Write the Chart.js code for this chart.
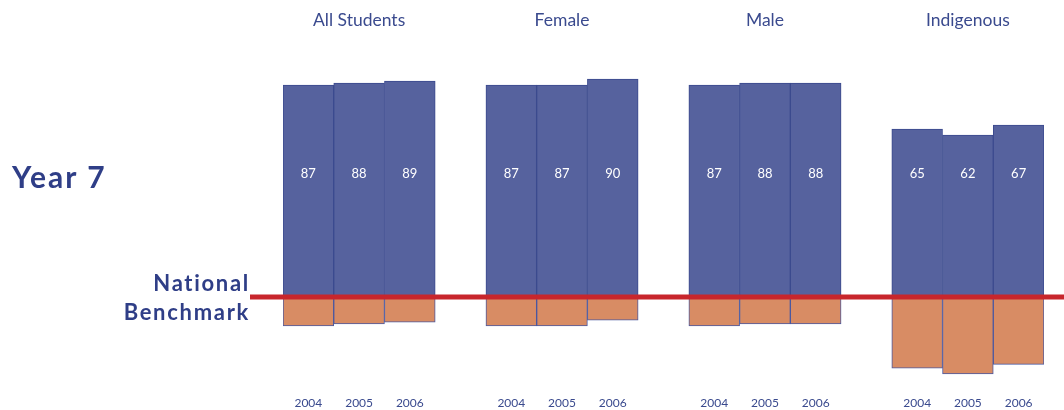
<!DOCTYPE html>
<html>
<head>
<meta charset="utf-8">
<script src="https://cdn.jsdelivr.net/npm/chart.js@4"></script>
<style>
  body { margin: 0; background: #fff; }
  #wrap { position: relative; width: 1064px; height: 410px; }
  .side { position: absolute; font-family: Lato, "Open Sans", sans-serif; font-weight: bold; color: #2f3e87; }
  #year { left: 12px; top: 160px; font-size: 30px; line-height: 32px; letter-spacing: 2px; }
  #bench { left: 0; width: 250px; top: 268px; font-size: 22px; line-height: 29px; text-align: right; letter-spacing: 1.7px; }
</style>
</head>
<body>
<div id="wrap">
  <canvas id="barChart"></canvas>
  <div class="side" id="year">Year 7</div>
  <div class="side" id="bench">National<br>Benchmark</div>
</div>
<script>
// Groups and years
const groups = ['All Students', 'Female', 'Male', 'Indigenous'];
const years = ['2004', '2005', '2006'];

// % of students at or above the national benchmark
const allStudents = [87, 88, 89];
const female = [87, 87, 90];
const male = [87, 88, 88];
const indigenous = [65, 62, 67];

// build one slot per bar, with an empty slot between groups
const groupValues = [allStudents, female, male, indigenous];
const xLabels = [];
const topLabels = [];
const above = [];
const below = [];
groupValues.forEach((vals, g) => {
    vals.forEach((v, i) => {
        xLabels.push(years[i]);
        topLabels.push(i === 1 ? groups[g] : '');
        above.push(v);
        below.push(-(100 - v)); // share below benchmark
    });
    if (g < groupValues.length - 1) {
        xLabels.push('');
        topLabels.push('');
        above.push(null);
        below.push(null);
    }
});

// red benchmark line across the chart
const benchmarkLine = {
    id: 'benchmarkLine',
    afterDatasetsDraw(chart) {
        const ctx = chart.ctx;
        const y = chart.scales.yBlue.getPixelForValue(-19);
        ctx.save();
        ctx.strokeStyle = '#c8262c';
        ctx.lineWidth = 5;
        ctx.beginPath();
        ctx.moveTo(250, y);
        ctx.lineTo(chart.width, y);
        ctx.stroke();
        ctx.restore();
    }
};

// white numbers inside the blue bars
const valueLabels = {
    id: 'valueLabels',
    afterDatasetsDraw(chart) {
        const ctx = chart.ctx;
        const meta = chart.getDatasetMeta(0);
        ctx.save();
        ctx.fillStyle = '#ffffff';
        ctx.font = '13px Lato, "Open Sans", sans-serif';
        ctx.textAlign = 'center';
        ctx.textBaseline = 'middle';
        meta.data.forEach((bar, i) => {
            const v = chart.data.datasets[0].data[i];
            if (v === null) return;
            ctx.fillText(v, bar.x, 174);
        });
        ctx.restore();
    }
};

const ctx = document.getElementById('barChart').getContext('2d');
new Chart(ctx, {
    type: 'bar',
    data: {
        labels: xLabels,
        datasets: [{
            data: above,
            yAxisID: 'yBlue',
            base: -19,
            grouped: false,
            barPercentage: 1,
            categoryPercentage: 1,
            backgroundColor: '#56629e',
            borderColor: '#3b4a8e',
            borderWidth: 1
        }, {
            data: below,
            yAxisID: 'y',
            base: 2.08,
            grouped: false,
            barPercentage: 1,
            categoryPercentage: 1,
            backgroundColor: '#d88c64',
            borderColor: '#4a58a0',
            borderWidth: 1
        }]
    },
    options: {
        responsive: true,
        maintainAspectRatio: false,
        animation: false,
        layout: { padding: { left: 283, right: 20, top: 0, bottom: 0 } },
        scales: {
            x: {
                position: 'bottom',
                grid: { display: false, drawTicks: false },
                border: { display: false },
                ticks: {
                    autoSkip: false,
                    maxRotation: 0,
                    padding: 16,
                    color: '#3a4a8e',
                    font: { family: 'Lato, "Open Sans", sans-serif', size: 12 }
                },
                afterFit: (scale) => { scale.height = 30; }
            },
            xTop: {
                type: 'category',
                labels: topLabels,
                position: 'top',
                grid: { display: false, drawTicks: false },
                border: { display: false },
                ticks: {
                    autoSkip: false,
                    maxRotation: 0,
                    padding: 9,
                    color: '#3a4a8e',
                    font: { family: 'Lato, "Open Sans", sans-serif', size: 17.5 }
                },
                afterFit: (scale) => { scale.height = 40; }
            },
            y: { display: false, min: -41.15, max: 135.94 },
            yBlue: { display: false, min: -60.5, max: 109.5 }
        },
        plugins: {
            legend: { display: false },
            tooltip: { enabled: false }
        }
    },
    plugins: [valueLabels, benchmarkLine]
});
</script>
</body>
</html>
